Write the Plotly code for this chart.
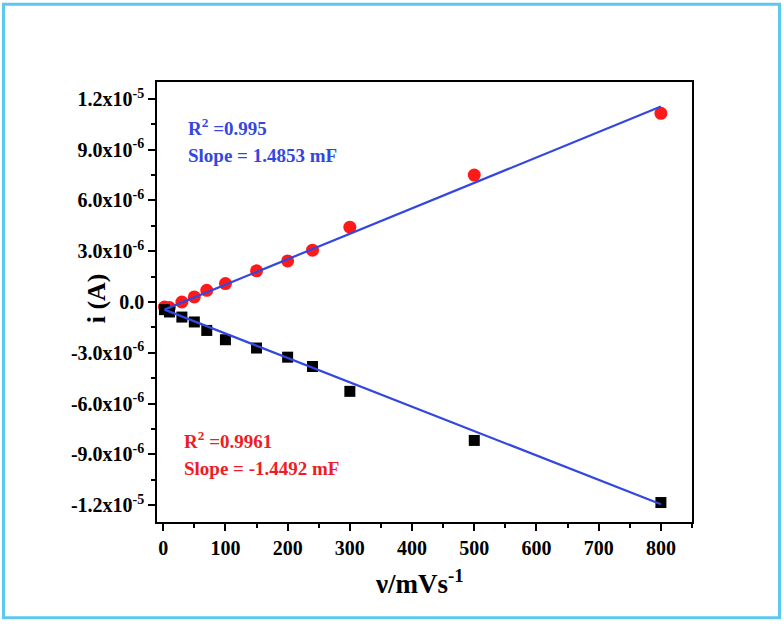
import plotly.graph_objects as go

# scan rate (mV/s)
scan_rate = [2, 10, 30, 50, 70, 100, 150, 200, 240, 300, 500, 800]
# anodic current (A)
i_anodic = [-0.30e-6, -0.33e-6, 0.0, 0.30e-6, 0.69e-6, 1.09e-6, 1.84e-6, 2.43e-6, 3.06e-6, 4.42e-6, 7.50e-6, 11.15e-6]
# cathodic current (A)
i_cathodic = [-0.45e-6, -0.59e-6, -0.89e-6, -1.18e-6, -1.68e-6, -2.23e-6, -2.72e-6, -3.26e-6, -3.81e-6, -5.28e-6, -8.18e-6, -11.85e-6]
# linear fit end points
fit_x = [2, 800]
fit_anodic = [-0.45e-6, 11.55e-6]
fit_cathodic = [-0.45e-6, -11.95e-6]

y_tickvals = [1.2e-5, 9e-6, 6e-6, 3e-6, 0, -3e-6, -6e-6, -9e-6, -1.2e-5]
y_ticktext = ["1.2x10<sup>-5</sup>", "9.0x10<sup>-6</sup>", "6.0x10<sup>-6</sup>", "3.0x10<sup>-6</sup>",
              "0.0", "-3.0x10<sup>-6</sup>", "-6.0x10<sup>-6</sup>", "-9.0x10<sup>-6</sup>", "-1.2x10<sup>-5</sup>"]
x_tickvals = [0, 100, 200, 300, 400, 500, 600, 700, 800]

FONT = "Liberation Serif, Times New Roman, serif"
BLUE = "#3347e0"
RED = "#ee1c25"

L, R, T, B = 157, 692, 81.7, 521.7
PW, PH = R - L, B - T


def px(x):
    return (x - L) / PW


def py(y):
    return (B - y) / PH


fig = go.Figure()
fig.add_trace(go.Scatter(x=scan_rate, y=i_anodic, mode="markers",
                         marker=dict(symbol="circle", size=13, color="#ff1a1a"), showlegend=False))
fig.add_trace(go.Scatter(x=scan_rate, y=i_cathodic, mode="markers",
                         marker=dict(symbol="square", size=11, color="black"), showlegend=False))
fig.add_trace(go.Scatter(x=fit_x, y=fit_anodic, mode="lines", line=dict(color=BLUE, width=2.2), showlegend=False))
fig.add_trace(go.Scatter(x=fit_x, y=fit_cathodic, mode="lines", line=dict(color=BLUE, width=2.2), showlegend=False))

fig.update_layout(
    width=784, height=624,
    margin=dict(l=L, r=784 - R, t=T, b=624 - B),
    paper_bgcolor="white", plot_bgcolor="white",
    font=dict(family=FONT, color="black"),
    xaxis=dict(range=[-10, 850], tickvals=x_tickvals, ticks="outside", ticklen=7, tickwidth=1.5,
               tickcolor="black", showgrid=False, zeroline=False, showline=True, linecolor="black",
               linewidth=1.5, mirror=True,
               minor=dict(dtick=50, tick0=0, ticks="outside", ticklen=4, tickwidth=1.5, tickcolor="black"),
               tickfont=dict(family=FONT, size=20, color="black", weight="bold")),
    yaxis=dict(range=[-1.3e-5, 1.3e-5], tickvals=y_tickvals, ticktext=y_ticktext, ticks="outside",
               ticklen=7, tickwidth=1.5, tickcolor="black", showgrid=False, zeroline=False, showline=True,
               linecolor="black", linewidth=1.5, mirror=True,
               minor=dict(dtick=1.5e-6, tick0=0, ticks="outside", ticklen=4, tickwidth=1.5, tickcolor="black"),
               tickfont=dict(family=FONT, size=20, color="black", weight="bold")),
)

# axis titles
fig.add_annotation(xref="paper", yref="paper", x=px(96), y=py(298), xanchor="center", yanchor="middle",
                   showarrow=False, textangle=-90, text="i (A)",
                   font=dict(family=FONT, size=26, color="black", weight="bold"))
fig.add_annotation(xref="paper", yref="paper", x=px(419), y=py(582), xanchor="center", yanchor="middle",
                   showarrow=False, text="ν/mVs<sup>-1</sup>",
                   font=dict(family=FONT, size=27, color="black", weight="bold"))

fig.add_annotation(xref="paper", yref="paper", x=px(186), y=py(127), xanchor="left",
                   yanchor="middle", showarrow=False, text="R<sup>2</sup> =0.995",
                   font=dict(family=FONT, size=19, color=BLUE, weight="bold"))
fig.add_annotation(xref="paper", yref="paper", x=px(186), y=py(155), xanchor="left",
                   yanchor="middle", showarrow=False, text="Slope = 1.4853 mF",
                   font=dict(family=FONT, size=19, color=BLUE, weight="bold"))
fig.add_annotation(xref="paper", yref="paper", x=px(182), y=py(440), xanchor="left",
                   yanchor="middle", showarrow=False, text="R<sup>2</sup> =0.9961",
                   font=dict(family=FONT, size=19, color=RED, weight="bold"))
fig.add_annotation(xref="paper", yref="paper", x=px(182), y=py(468), xanchor="left",
                   yanchor="middle", showarrow=False, text="Slope = -1.4492 mF",
                   font=dict(family=FONT, size=19, color=RED, weight="bold"))

# outer light-blue frame
fig.add_shape(type="rect", xref="paper", yref="paper",
              x0=px(3.5), x1=px(779.5), y0=py(617.5), y1=py(4),
              line=dict(color="#5cc8ee", width=3), fillcolor="rgba(0,0,0,0)", layer="below")

fig.write_html("out.html", config={"displayModeBar": False},
               post_script="document.body.style.margin='0';")
